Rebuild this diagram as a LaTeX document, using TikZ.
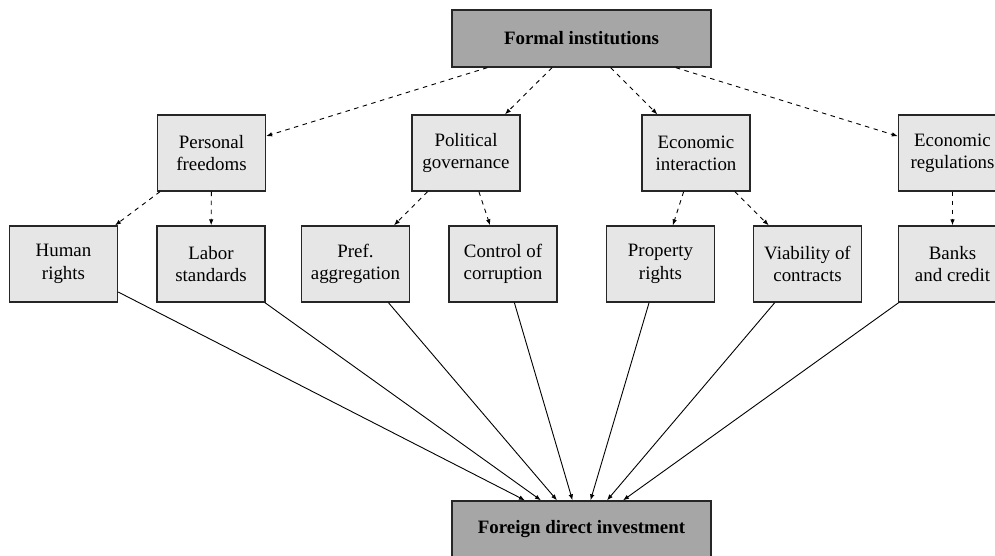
\documentclass[tikz,border=0pt]{standalone}
\usepackage{fontspec}
\setmainfont{Liberation Serif}
\usetikzlibrary{arrows.meta}
\definecolor{darkbox}{HTML}{A6A6A6}
\definecolor{lightbox}{HTML}{E6E6E6}
\tikzset{
  mainbox/.style={draw=black!85, line width=1.3, fill=darkbox, minimum width=259, minimum height=57, inner sep=0, font=\fontsize{18.9}{22.3}\selectfont\bfseries},
  subbox/.style={draw=black!85, line width=1.3, fill=lightbox, minimum width=108, minimum height=76, inner sep=0, align=center, font=\fontsize{18.9}{22.3}\selectfont},
  dasharrow/.style={draw=black, line width=0.9, dash pattern=on 4.5 off 4.5, -{Latex[length=6,width=4.5]}},
  solidarrow/.style={draw=black, line width=0.9, -{Latex[length=6,width=4.5]}}
}
\begin{document}
\begin{tikzpicture}[x=1pt,y=-1pt]
\useasboundingbox (0,0) rectangle (995,556);
\node[mainbox] (formal) at (581.5,38.5) {Formal institutions};
\node[mainbox] (fdi) at (581.5,529.5) {Foreign direct investment};

\node[subbox] (pf) at (211.5,153) {Personal\\freedoms};
\node[subbox] (pg) at (466,153) {Political\\governance};
\node[subbox] (ei) at (696,153) {Economic\\interaction};
\node[subbox] (er) at (952.5,153) {Economic\\regulations};

\node[subbox] (hr) at (63.5,264) {Human\\rights};
\node[subbox] (ls) at (211,264) {Labor\\standards};
\node[subbox] (pa) at (355.5,264) {Pref.\\aggregation};
\node[subbox] (cc) at (503,264) {Control of\\corruption};
\node[subbox] (pr) at (660.5,264) {Property\\rights};
\node[subbox] (vc) at (807.5,264) {Viability of\\contracts};
\node[subbox] (bc) at (952.5,264) {Banks\\and credit};

\draw[dasharrow] (formal) -- (pf);
\draw[dasharrow] (formal) -- (pg);
\draw[dasharrow] (formal) -- (ei);
\draw[dasharrow] (formal) -- (er);
\draw[dasharrow] (pf) -- (hr);
\draw[dasharrow] (pf) -- (ls);
\draw[dasharrow] (pg) -- (pa);
\draw[dasharrow] (pg) -- (cc);
\draw[dasharrow] (ei) -- (pr);
\draw[dasharrow] (ei) -- (vc);
\draw[dasharrow] (er) -- (bc);

\coordinate (t1) at ([xshift=-56.5]fdi.north);
\coordinate (t2) at ([xshift=-40.5]fdi.north);
\coordinate (t3) at ([xshift=-24.5]fdi.north);
\coordinate (t4) at ([xshift=-9]fdi.north);
\coordinate (t5) at ([xshift=9]fdi.north);
\coordinate (t6) at ([xshift=25.5]fdi.north);
\coordinate (t7) at ([xshift=41.5]fdi.north);

\draw[solidarrow] (hr) -- (t1);
\draw[solidarrow] (ls) -- (t2);
\draw[solidarrow] (pa) -- (t3);
\draw[solidarrow] (cc) -- (t4);
\draw[solidarrow] (pr) -- (t5);
\draw[solidarrow] (vc) -- (t6);
\draw[solidarrow] (bc) -- (t7);
\end{tikzpicture}
\end{document}
